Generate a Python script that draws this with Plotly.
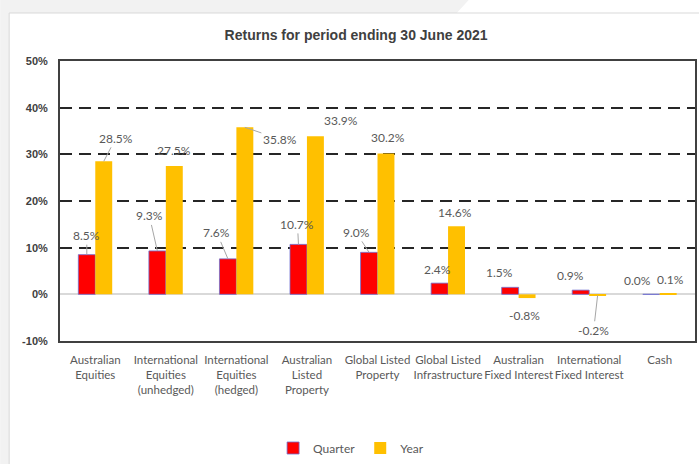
import plotly.graph_objects as go

categories = [
    "Australian<br>Equities",
    "International<br>Equities<br>(unhedged)",
    "International<br>Equities<br>(hedged)",
    "Australian<br>Listed<br>Property",
    "Global Listed<br>Property",
    "Global Listed<br>Infrastructure",
    "Australian<br>Fixed Interest",
    "International<br>Fixed Interest",
    "Cash",
]
quarter = [8.5, 9.3, 7.6, 10.7, 9.0, 2.4, 1.5, 0.9, 0.0]
year = [28.5, 27.5, 35.8, 33.9, 30.2, 14.6, -0.8, -0.2, 0.1]
y_ticks = [-10, 0, 10, 20, 30, 40, 50]
grid_vals = [10, 20, 30, 40]

# label placement (pixel offsets of label centre from bar end, leader line flag)
q_label_pos = [(0, -19, True), (-8, -35, True), (-11, -26, True), (-1, -20, True),
               (-13, -20, True), (-2, -14, False), (-11, -15, False),
               (-10, -15, False), (-14, -14, False)]
y_label_pos = [(12, -23, True), (0, -16, False), (35, 12, True), (26, -16, False),
               (2, -16, False), (-2, -14, False), (-3, 17, False), (-4, 35, True),
               (2, -14, False)]

RED = "#FF0000"
GOLD = "#FFC000"
LABEL = "#595959"
BARGAP = 0.52
half = (1 - BARGAP) / 4  # offset of each bar centre from category centre

xs = list(range(len(categories)))

fig = go.Figure()
fig.add_trace(go.Bar(x=xs, y=quarter, name="Quarter",
                     marker=dict(color=RED, line=dict(color="#6f6fd0", width=0.8))))
fig.add_trace(go.Bar(x=xs, y=year, name="Year",
                     marker=dict(color=GOLD, line=dict(color=GOLD, width=0))))

annotations = []
for series, pos, sign in ((quarter, q_label_pos, -1), (year, y_label_pos, 1)):
    for i, (v, (dx, dy, leader)) in enumerate(zip(series, pos)):
        base = dict(x=i + sign * half, y=v, xref="x", yref="y",
                    text=f"{v:.1f}%",
                    font=dict(family="Lato, Open Sans, sans-serif", size=12, color=LABEL))
        if leader:
            base.update(showarrow=True, ax=dx, ay=dy, arrowhead=0, arrowwidth=1,
                        arrowcolor="#a6a6a6", standoff=0, startstandoff=0)
        else:
            base.update(showarrow=False, xshift=dx, yshift=-dy)
        annotations.append(base)

# page background / frame (paper coordinates)
W, H = 699, 464
L, R, T, B = 60, 697, 61, 341
pw, ph = R - L, B - T
def px(x):
    return (x - L) / pw
def py(y):
    return (B - y) / ph

shapes = [
    dict(type="path", xref="paper", yref="paper",
         path=f"M {px(0)},{py(0)} L {px(470)},{py(0)} L {px(458)},{py(13)} "
              f"L {px(9)},{py(13)} L {px(9)},{py(H)} L {px(0)},{py(H)} Z",
         fillcolor="#f2f2f2", line=dict(width=0), layer="below"),
    dict(type="rect", xref="paper", yref="paper",
         x0=px(9), y0=py(H + 5), x1=px(W + 5), y1=py(13),
         line=dict(color="#d9d9d9", width=1), layer="below"),
]

fig.update_layout(
    width=W, height=H,
    margin=dict(l=L, r=W - R, t=T, b=H - B),
    paper_bgcolor="white", plot_bgcolor="white",
    barmode="group", bargap=BARGAP, bargroupgap=0,
    title=dict(text="Returns for period ending 30 June 2021",
               x=px(357), xanchor="center", xref="paper", y=1 - 35 / H, yanchor="middle",
               font=dict(family="Liberation Sans, Arial, sans-serif", size=14,
                         color="#404040", weight="bold")),
    xaxis=dict(range=[-0.5, len(categories) - 0.5], tickvals=xs, ticktext=categories,
               tickangle=0, showgrid=False, zeroline=False,
               showline=True, mirror=True, linecolor="#404040", linewidth=2,
               ticks="", ticklabelstandoff=7,
               tickfont=dict(family="Lato, Open Sans, sans-serif", size=11.5, color=LABEL)),
    yaxis=dict(range=[-10, 50], tickvals=y_ticks, ticktext=[f"{v}%" for v in y_ticks],
               showgrid=False,
               minor=dict(tickvals=grid_vals, showgrid=True, gridcolor="#262626",
                          gridwidth=2, griddash="12px,7px", ticks=""),
               zeroline=True, zerolinecolor="#d9d9d9", zerolinewidth=1.5,
               showline=True, mirror=True, linecolor="#404040", linewidth=2,
               ticks="", ticklabelstandoff=8,
               tickfont=dict(family="Liberation Sans, Arial, sans-serif", size=11,
                             color="#404040", weight="bold")),
    legend=dict(orientation="h", x=px(352), xanchor="center", y=py(448), yanchor="middle",
                font=dict(family="Lato, Open Sans, sans-serif", size=12, color=LABEL),
                itemwidth=30, bgcolor="rgba(0,0,0,0)"),
    annotations=annotations,
    shapes=shapes,
)

fig.write_html("out.html")
